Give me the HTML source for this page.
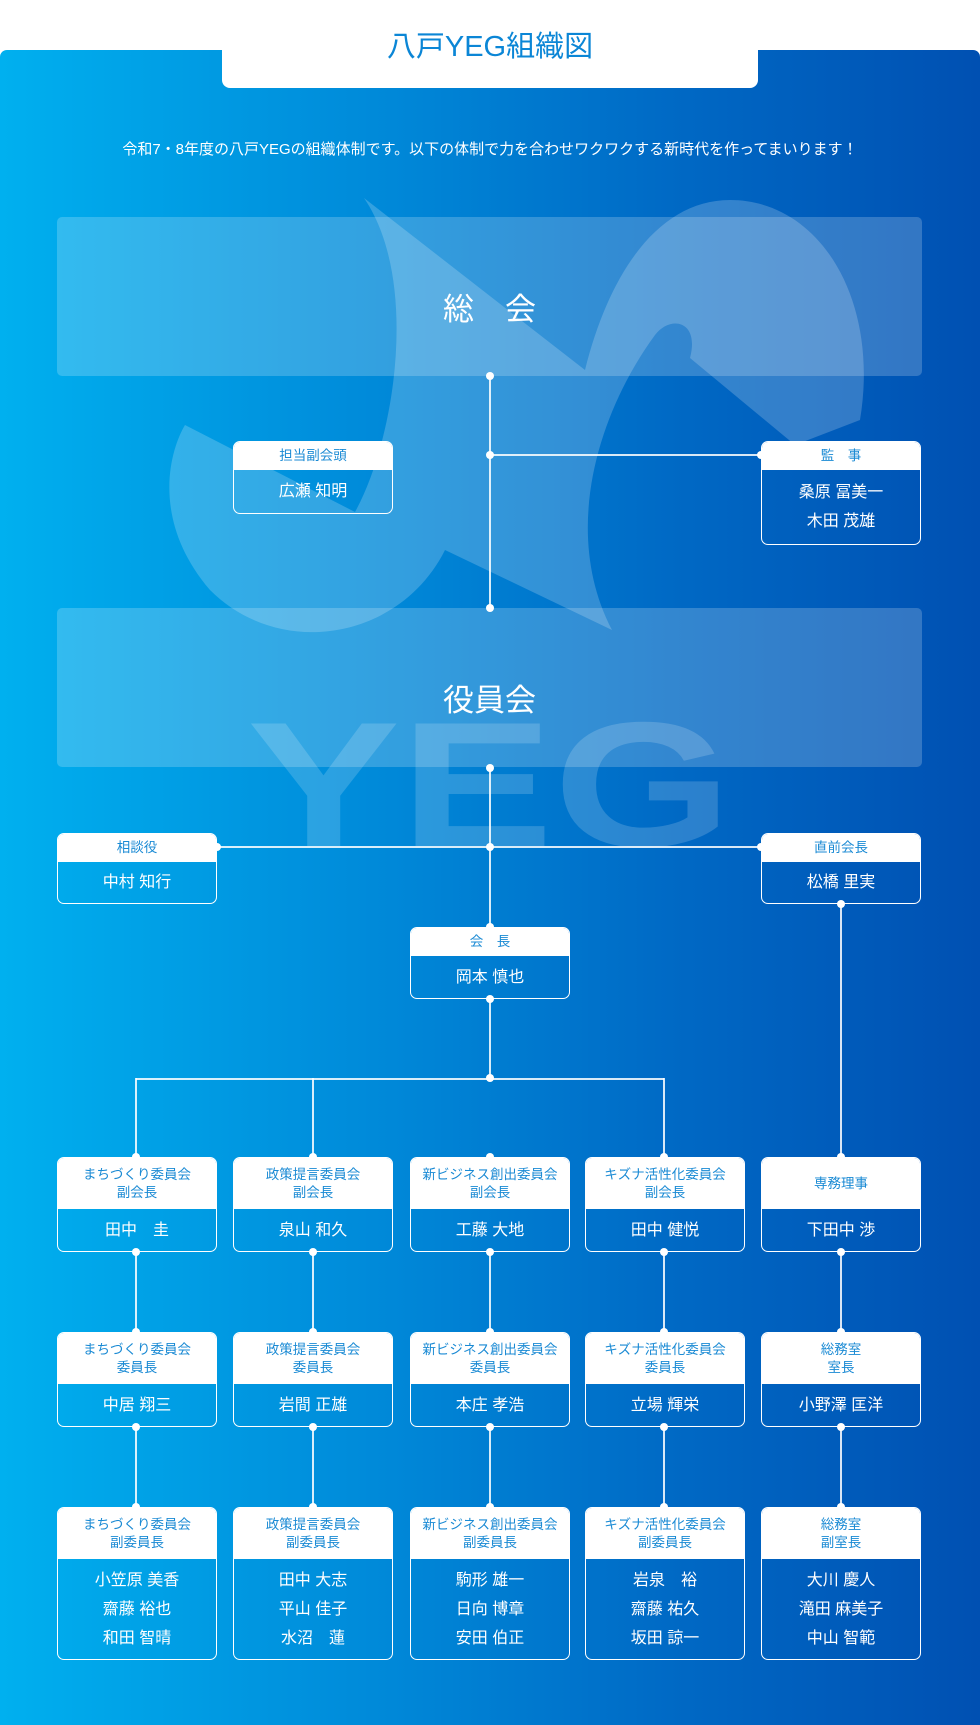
<!DOCTYPE html>
<html><head><meta charset="utf-8"><style>
*{margin:0;padding:0;box-sizing:border-box}
body{width:980px;height:1725px;background:#fff;position:relative;overflow:hidden;font-family:"Liberation Sans","Noto Sans CJK JP",sans-serif}
.panel{position:absolute;left:0;top:50px;width:980px;height:1675px;border-radius:7px 7px 0 0;background:linear-gradient(90deg,#00b0ef 0%,#0088d8 40%,#0068c4 70%,#0050b2 100%)}
.tab{position:absolute;left:222px;top:0;width:536px;height:88px;background:#fff;border-radius:0 0 8px 8px;text-align:center;color:#0b86d6;font-size:29px;line-height:94px}
.sub{position:absolute;left:0;width:980px;top:138px;text-align:center;color:#fff;font-size:15px}
.big{position:absolute;left:57px;width:865px;height:159px;background:rgba(255,255,255,0.2);border-radius:5px;color:#fff;text-align:center;font-size:31px;line-height:185px}
.box{position:absolute;width:160px;border:1.5px solid #fff;border-radius:7px;overflow:hidden;color:#fff;text-align:center}
.box .h{background:#fff;color:#1a8ad4;font-size:13.5px;display:flex;align-items:center;justify-content:center;line-height:1.3}
.box .b{font-size:16px;line-height:29px;display:flex;flex-direction:column;justify-content:center}
.l{position:absolute;background:#fff;opacity:.85}
.d{position:absolute;width:8px;height:8px;border-radius:50%;background:#fff;margin:-4px 0 0 -4px}
</style></head><body>
<div class="panel"></div>
<svg style="position:absolute;left:0;top:0" width="980" height="1725">
<g fill="#fff" opacity="0.2">
<path d="M364 198 L585 370 C610 270 660 200 730 200 C820 200 880 300 860 420 L795 445 L690 358 C700 320 670 315 655 335 C600 410 560 530 612 630 L445 550 C400 640 280 660 210 590 C150 520 170 450 185 425 L355 512 C395 440 420 280 364 198 Z"/>
</g>
<text x="247" y="846" textLength="485" lengthAdjust="spacingAndGlyphs" font-family="Liberation Sans" font-weight="bold" font-size="178" fill="#fff" opacity="0.17">YEG</text>
</svg>
<div class="tab">八戸YEG組織図</div>
<div class="sub">令和7・8年度の八戸YEGの組織体制です。以下の体制で力を合わせワクワクする新時代を作ってまいります！</div>
<div class="big" style="top:217px">総　会</div>
<div class="big" style="top:608px">役員会</div>

<!-- lines -->
<div class="l" style="left:489px;top:376px;width:1.5px;height:232px"></div>
<div class="l" style="left:490px;top:454px;width:271px;height:1.5px"></div>
<div class="l" style="left:489px;top:768px;width:1.5px;height:159px"></div>
<div class="l" style="left:489px;top:999px;width:1.5px;height:79px"></div>
<div class="l" style="left:217px;top:846px;width:544px;height:1.5px"></div>
<div class="l" style="left:136px;top:1078px;width:528px;height:1.5px"></div>
<div class="l" style="left:135px;top:1078px;width:1.5px;height:79px"></div>
<div class="l" style="left:312px;top:1078px;width:1.5px;height:79px"></div>
<div class="l" style="left:663px;top:1078px;width:1.5px;height:79px"></div>
<div class="l" style="left:840px;top:904px;width:1.5px;height:253px"></div>
<div class="l" style="left:135px;top:1252px;width:1.5px;height:80px"></div>
<div class="l" style="left:312px;top:1252px;width:1.5px;height:80px"></div>
<div class="l" style="left:489px;top:1252px;width:1.5px;height:80px"></div>
<div class="l" style="left:663px;top:1252px;width:1.5px;height:80px"></div>
<div class="l" style="left:840px;top:1252px;width:1.5px;height:80px"></div>
<div class="l" style="left:135px;top:1427px;width:1.5px;height:80px"></div>
<div class="l" style="left:312px;top:1427px;width:1.5px;height:80px"></div>
<div class="l" style="left:489px;top:1427px;width:1.5px;height:80px"></div>
<div class="l" style="left:663px;top:1427px;width:1.5px;height:80px"></div>
<div class="l" style="left:840px;top:1427px;width:1.5px;height:80px"></div>

<div class="box" style="left:233px;top:441px;height:73px"><div class="h" style="height:28px">担当副会頭</div><div class="b" style="height:43px">広瀬 知明</div></div>
<div class="box" style="left:761px;top:441px;height:104px"><div class="h" style="height:28px">監　事</div><div class="b" style="height:74px">桑原 冨美一<br>木田 茂雄</div></div>
<div class="box" style="left:57px;top:833px;height:71px"><div class="h" style="height:28px">相談役</div><div class="b" style="height:41px">中村 知行</div></div>
<div class="box" style="left:761px;top:833px;height:71px"><div class="h" style="height:28px">直前会長</div><div class="b" style="height:41px">松橋 里実</div></div>
<div class="box" style="left:410px;top:927px;height:72px"><div class="h" style="height:28px">会　長</div><div class="b" style="height:42px">岡本 慎也</div></div>

<div class="box" style="left:57px;top:1157px;height:95px"><div class="h" style="height:51px">まちづくり委員会<br>副会長</div><div class="b" style="height:42px">田中　圭</div></div>
<div class="box" style="left:233px;top:1157px;height:95px"><div class="h" style="height:51px">政策提言委員会<br>副会長</div><div class="b" style="height:42px">泉山 和久</div></div>
<div class="box" style="left:410px;top:1157px;height:95px"><div class="h" style="height:51px">新ビジネス創出委員会<br>副会長</div><div class="b" style="height:42px">工藤 大地</div></div>
<div class="box" style="left:585px;top:1157px;height:95px"><div class="h" style="height:51px">キズナ活性化委員会<br>副会長</div><div class="b" style="height:42px">田中 健悦</div></div>
<div class="box" style="left:761px;top:1157px;height:95px"><div class="h" style="height:51px">専務理事</div><div class="b" style="height:42px">下田中 渉</div></div>

<div class="box" style="left:57px;top:1332px;height:95px"><div class="h" style="height:51px">まちづくり委員会<br>委員長</div><div class="b" style="height:42px">中居 翔三</div></div>
<div class="box" style="left:233px;top:1332px;height:95px"><div class="h" style="height:51px">政策提言委員会<br>委員長</div><div class="b" style="height:42px">岩間 正雄</div></div>
<div class="box" style="left:410px;top:1332px;height:95px"><div class="h" style="height:51px">新ビジネス創出委員会<br>委員長</div><div class="b" style="height:42px">本庄 孝浩</div></div>
<div class="box" style="left:585px;top:1332px;height:95px"><div class="h" style="height:51px">キズナ活性化委員会<br>委員長</div><div class="b" style="height:42px">立場 輝栄</div></div>
<div class="box" style="left:761px;top:1332px;height:95px"><div class="h" style="height:51px">総務室<br>室長</div><div class="b" style="height:42px">小野澤 匡洋</div></div>

<div class="box" style="left:57px;top:1507px;height:153px"><div class="h" style="height:51px">まちづくり委員会<br>副委員長</div><div class="b" style="height:100px">小笠原 美香<br>齋藤 裕也<br>和田 智晴</div></div>
<div class="box" style="left:233px;top:1507px;height:153px"><div class="h" style="height:51px">政策提言委員会<br>副委員長</div><div class="b" style="height:100px">田中 大志<br>平山 佳子<br>水沼　蓮</div></div>
<div class="box" style="left:410px;top:1507px;height:153px"><div class="h" style="height:51px">新ビジネス創出委員会<br>副委員長</div><div class="b" style="height:100px">駒形 雄一<br>日向 博章<br>安田 伯正</div></div>
<div class="box" style="left:585px;top:1507px;height:153px"><div class="h" style="height:51px">キズナ活性化委員会<br>副委員長</div><div class="b" style="height:100px">岩泉　裕<br>齋藤 祐久<br>坂田 諒一</div></div>
<div class="box" style="left:761px;top:1507px;height:153px"><div class="h" style="height:51px">総務室<br>副室長</div><div class="b" style="height:100px">大川 慶人<br>滝田 麻美子<br>中山 智範</div></div>

<!-- dots -->
<div class="d" style="left:490px;top:376px"></div>
<div class="d" style="left:490px;top:455px"></div>
<div class="d" style="left:761px;top:455px"></div>
<div class="d" style="left:490px;top:608px"></div>
<div class="d" style="left:490px;top:768px"></div>
<div class="d" style="left:490px;top:847px"></div>
<div class="d" style="left:217px;top:847px"></div>
<div class="d" style="left:761px;top:847px"></div>
<div class="d" style="left:490px;top:927px"></div>
<div class="d" style="left:490px;top:999px"></div>
<div class="d" style="left:841px;top:904px"></div>
<div class="d" style="left:490px;top:1078px"></div>
<div class="d" style="left:136px;top:1157px"></div><div class="d" style="left:313px;top:1157px"></div><div class="d" style="left:490px;top:1157px"></div><div class="d" style="left:664px;top:1157px"></div><div class="d" style="left:841px;top:1157px"></div>
<div class="d" style="left:136px;top:1252px"></div><div class="d" style="left:313px;top:1252px"></div><div class="d" style="left:490px;top:1252px"></div><div class="d" style="left:664px;top:1252px"></div><div class="d" style="left:841px;top:1252px"></div>
<div class="d" style="left:136px;top:1332px"></div><div class="d" style="left:313px;top:1332px"></div><div class="d" style="left:490px;top:1332px"></div><div class="d" style="left:664px;top:1332px"></div><div class="d" style="left:841px;top:1332px"></div>
<div class="d" style="left:136px;top:1427px"></div><div class="d" style="left:313px;top:1427px"></div><div class="d" style="left:490px;top:1427px"></div><div class="d" style="left:664px;top:1427px"></div><div class="d" style="left:841px;top:1427px"></div>
<div class="d" style="left:136px;top:1507px"></div><div class="d" style="left:313px;top:1507px"></div><div class="d" style="left:490px;top:1507px"></div><div class="d" style="left:664px;top:1507px"></div><div class="d" style="left:841px;top:1507px"></div>
</body></html>
